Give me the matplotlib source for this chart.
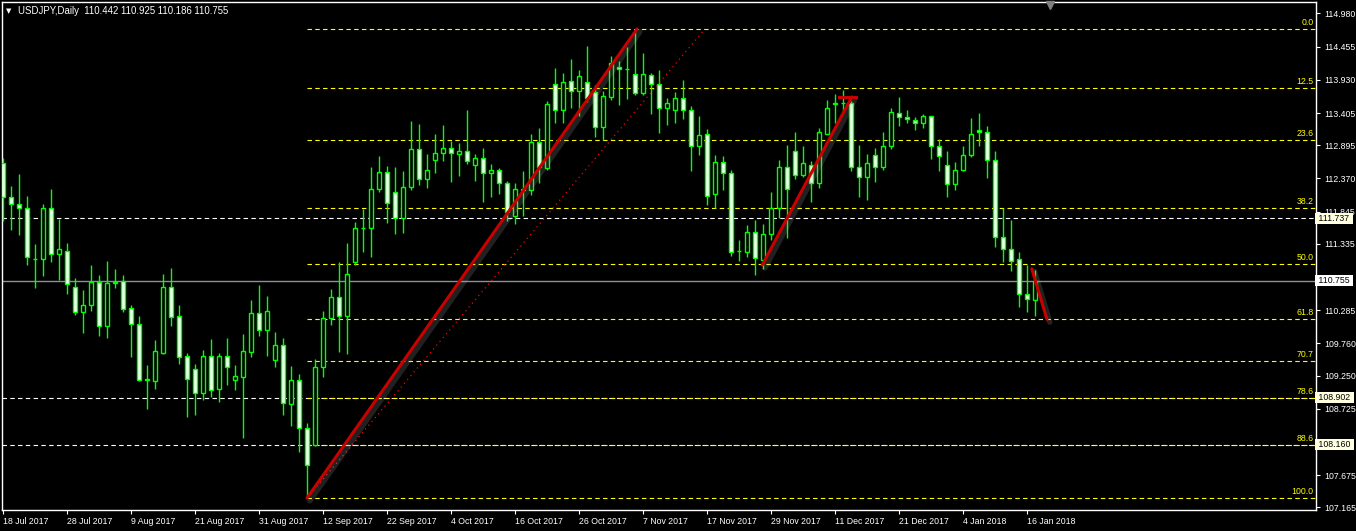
import matplotlib
matplotlib.use("Agg")
import matplotlib.pyplot as plt
import matplotlib.patheffects as pe
import matplotlib.transforms as mtransforms
import numpy as np
import pandas as pd

plt.rcParams['font.family'] = ['Liberation Sans', 'DejaVu Sans']

# daily bars, USDJPY 18 Jul 2017 - 17 Jan 2018 (no bars on 25 Dec and 1 Jan)
dates = pd.bdate_range("2017-07-18", "2018-01-17")
dates = dates[~dates.isin(pd.to_datetime(["2017-12-25", "2018-01-01"]))]

opens = [112.62, 112.07, 111.96, 111.90, 111.10, 111.09, 111.90, 111.17, 111.23, 110.65,
         110.25, 110.36, 110.73, 110.04, 110.72, 110.74, 110.32, 110.06, 109.19, 109.16,
         109.61, 110.66, 110.19, 109.56, 109.35, 108.97, 109.56, 109.04, 109.56, 109.18,
         109.23, 109.63, 110.24, 109.97, 109.50, 109.73, 108.80, 109.18, 108.43, 108.16,
         109.39, 110.16, 110.49, 110.19, 111.05, 111.59, 111.59, 112.21, 112.47, 112.15,
         111.74, 112.23, 112.83, 112.36, 112.66, 112.77, 112.85, 112.75, 112.81, 112.59,
         112.69, 112.45, 112.50, 112.29, 111.77, 112.20, 112.19, 112.94, 112.53, 113.86,
         113.45, 113.91, 113.75, 113.89, 113.73, 113.18, 113.66, 114.14, 114.10, 114.02,
         113.72, 114.00, 113.87, 113.48, 113.46, 113.64, 113.46, 112.88, 113.07, 112.13,
         112.63, 112.45, 111.22, 111.20, 111.52, 111.08, 111.49, 111.91, 112.55, 112.80,
         112.42, 112.59, 112.29, 113.08, 113.57, 113.56, 113.56, 112.55, 112.39, 112.74,
         112.55, 112.89, 113.40, 113.34, 113.29, 113.24, 113.35, 112.88, 112.58, 112.28,
         112.51, 112.74, 113.14, 113.10, 112.66, 111.44, 111.26, 111.09, 110.54, 110.442]
highs = [112.69, 112.25, 112.44, 112.09, 111.33, 111.97, 112.20, 111.73, 111.35, 110.80,
         110.61, 111.00, 110.84, 111.06, 110.94, 110.84, 110.37, 110.19, 109.42, 109.81,
         110.86, 110.95, 110.37, 109.61, 109.43, 109.66, 109.83, 109.61, 109.85, 109.42,
         109.91, 110.45, 110.68, 110.51, 109.94, 109.85, 109.40, 109.28, 108.50, 109.51,
         110.27, 110.62, 111.05, 111.35, 111.68, 111.89, 112.55, 112.72, 112.57, 112.55,
         112.49, 113.28, 113.23, 112.76, 113.07, 113.21, 112.97, 112.93, 113.45, 112.76,
         112.85, 112.60, 112.53, 112.33, 112.30, 112.49, 113.07, 113.17, 113.60, 114.11,
         114.04, 114.26, 114.09, 114.47, 113.85, 113.75, 114.31, 114.23, 114.45, 114.73,
         114.35, 114.03, 114.09, 113.65, 113.74, 113.93, 113.52, 113.36, 113.15, 112.74,
         112.72, 112.50, 111.40, 111.63, 111.71, 111.65, 112.16, 112.66, 112.90, 113.10,
         112.88, 112.65, 113.16, 113.61, 113.71, 113.77, 113.60, 112.90, 112.76, 112.85,
         113.10, 113.48, 113.66, 113.46, 113.34, 113.39, 113.36, 113.00, 112.80, 112.63,
         112.88, 113.33, 113.41, 113.20, 112.80, 111.90, 111.71, 111.20, 111.00, 110.925]
lows = [111.69, 111.55, 111.48, 111.00, 110.63, 110.83, 111.05, 110.77, 110.54, 110.21,
        109.93, 110.27, 109.87, 109.85, 110.64, 110.25, 109.55, 109.16, 108.73, 109.04,
        109.60, 110.03, 109.44, 108.60, 108.63, 108.86, 108.92, 108.84, 109.10, 109.02,
        108.27, 109.54, 109.88, 109.56, 109.38, 108.63, 108.46, 108.05, 107.32, 108.13,
        109.23, 110.05, 109.63, 109.59, 111.00, 111.21, 111.13, 112.15, 111.66, 111.49,
        111.50, 112.18, 112.26, 112.22, 112.45, 112.64, 112.32, 112.41, 112.60, 112.33,
        111.99, 112.08, 112.13, 111.69, 111.65, 111.77, 112.11, 112.30, 112.50, 113.25,
        113.25, 113.48, 113.35, 113.58, 113.03, 112.98, 113.61, 113.53, 113.63, 113.69,
        113.69, 113.39, 113.09, 113.22, 113.25, 113.31, 112.48, 112.74, 111.95, 111.90,
        112.18, 111.15, 111.06, 111.13, 110.84, 110.93, 111.40, 111.74, 111.42, 112.36,
        112.39, 112.00, 112.22, 113.07, 113.25, 113.43, 112.48, 112.07, 112.03, 112.32,
        112.51, 112.84, 113.20, 113.25, 113.13, 113.16, 112.67, 112.48, 112.07, 112.18,
        112.48, 112.71, 112.89, 112.37, 111.28, 111.05, 110.91, 110.33, 110.25, 110.186]
closes = [112.07, 111.96, 111.90, 111.12, 111.09, 111.90, 111.17, 111.25, 110.70, 110.25,
          110.36, 110.73, 110.04, 110.71, 110.73, 110.31, 110.06, 109.18, 109.18, 109.64,
          110.66, 110.18, 109.55, 109.19, 108.97, 109.56, 109.03, 109.56, 109.38, 109.24,
          109.64, 110.24, 109.97, 110.27, 109.73, 108.81, 109.18, 108.43, 107.83, 109.39,
          110.16, 110.49, 110.19, 110.86, 111.58, 111.58, 112.21, 112.47, 111.98, 111.74,
          112.23, 112.83, 112.36, 112.50, 112.77, 112.85, 112.77, 112.81, 112.64, 112.69,
          112.45, 112.50, 112.29, 111.84, 112.20, 112.19, 112.94, 112.55, 113.54, 113.45,
          113.89, 113.75, 113.99, 113.64, 113.18, 113.67, 114.19, 114.10, 114.10, 113.72,
          114.02, 113.87, 113.48, 113.57, 113.64, 113.46, 112.88, 113.05, 112.10, 112.63,
          112.45, 111.21, 111.22, 111.53, 111.11, 111.49, 111.91, 112.55, 112.20, 112.42,
          112.61, 112.29, 113.10, 113.49, 113.54, 113.56, 112.55, 112.39, 112.61, 112.55,
          112.89, 113.42, 113.34, 113.31, 113.24, 113.36, 112.88, 112.72, 112.28, 112.51,
          112.74, 113.07, 113.10, 112.66, 111.44, 111.26, 111.07, 110.54, 110.46, 110.755]

# scale labels (the ones at 110.815 and 108.200 sit under the price boxes)
price_ticks = [114.980, 114.455, 113.930, 113.405, 112.895, 112.370, 111.845, 111.335,
               110.815, 110.285, 109.760, 109.250, 108.725, 108.200, 107.675, 107.165]
hidden_ticks = [110.815, 108.200]

fib_high = 114.734
fib_low = 107.314
fib_levels = [0.0, 12.5, 23.6, 38.2, 50.0, 61.8, 70.7, 78.6, 88.6, 100.0]
hlines = [111.737, 108.902, 108.160]
bid = 110.755

x = np.arange(len(dates))
o = np.array(opens); h = np.array(highs); l = np.array(lows); c = np.array(closes)

fig = plt.figure(figsize=(13.56, 5.31), dpi=100, facecolor='black')
ax = fig.add_axes([2/1356, 21/531, 1314/1356, 508/531], facecolor='black')

green = '#00ff00'
ax.vlines(x, l, h, color=green, lw=1.0, zorder=3)
up = c >= o
body_h = np.abs(c - o)
body_h[body_h < 0.001] = 0.001
ax.bar(x, body_h, bottom=np.minimum(o, c), width=0.6,
       color=np.where(up, 'black', 'white'), edgecolor=green, linewidth=1.0, zorder=4)

# fibonacci retracement
i_low = 38
for lv in fib_levels:
    p = fib_high - lv / 100 * (fib_high - fib_low)
    ax.plot([i_low, 170], [p, p], color='#ffff00', lw=0.8, ls=(0, (4, 3)), zorder=2)
    ax.text(163.8, p + 0.03, f"{lv:.1f}", color='#ffff00', fontsize=6.3,
            ha='right', va='bottom', zorder=6)
ax.plot([i_low, 87.75], [fib_low, fib_high], color='#ff0000', lw=0.9,
        ls=(0, (1, 3)), zorder=5)

# horizontal lines
for p in hlines:
    ax.axhline(p, color='white', lw=0.8, ls=(0, (4, 3)), zorder=1)
ax.axhline(bid, color='#8a8f99', lw=1.0, zorder=1)

# red trend lines
shadow = [pe.SimpleLineShadow(offset=(2, -2), shadow_color='#bbbbbb', alpha=0.18, linewidth=4),
          pe.Normal()]
red = '#c80000'
ax.plot([i_low, 79.25], [fib_low, fib_high], color=red, lw=2.2, zorder=7,
        solid_capstyle='round', path_effects=shadow)
ax.plot([94.9, 106.1], [111.00, 113.66], color=red, lw=2.2, zorder=7,
        solid_capstyle='round', path_effects=shadow)
ax.plot([104.5, 106.6], [113.66, 113.66], color=red, lw=2.2, zorder=7)
ax.plot([128.6, 130.5], [110.94, 110.14], color=red, lw=2.2, zorder=7,
        solid_capstyle='round', path_effects=shadow)

ax.set_xlim(-0.125, 164.125)
ax.set_ylim(107.125, 115.161)

for s in ax.spines.values():
    s.set_color('white')
    s.set_linewidth(1.0)

ax.yaxis.tick_right()
ax.set_yticks(price_ticks)
ax.set_yticklabels(["" if p in hidden_ticks else f"{p:.3f}" for p in price_ticks])
ax.set_xticks(x[::8])
ax.set_xticklabels([d.strftime('%-d %b %Y') for d in dates[::8]], ha='left')
ax.tick_params(axis='both', colors='white', labelcolor='white', labelsize=6.3,
               length=3, width=0.8, direction='out')
ax.tick_params(axis='x', pad=2)
ax.tick_params(axis='y', pad=3)

# price boxes on the right scale
trans = mtransforms.blended_transform_factory(ax.transAxes, ax.transData)
for p in hlines:
    ax.text(1.0, p, f" {p:.3f} ", transform=trans, ha='left', va='center', fontsize=6.3,
            color='black', zorder=10, clip_on=False,
            bbox=dict(boxstyle='square,pad=0.12', fc='#ffffe0', ec='none'))
ax.text(1.0, bid, f" {bid:.3f} ", transform=trans, ha='left', va='center', fontsize=6.3,
        color='black', zorder=10, clip_on=False,
        bbox=dict(boxstyle='square,pad=0.12', fc='white', ec='none'))

# header
fig.text(6/1356, 1 - 11/531, "\u25bc", color='white', fontsize=5, va='center',
         family='DejaVu Sans')
fig.text(18/1356, 1 - 11/531,
         f"USDJPY,Daily  {opens[-1]:.3f} {highs[-1]:.3f} {lows[-1]:.3f} {closes[-1]:.3f}",
         color='white', fontsize=6.9, va='center')
ax.plot(130.9, 115.161 - 0.05, marker='v', color='#7f7f7f', ms=6, clip_on=False, zorder=10)

fig.savefig("out.png", dpi=100, facecolor='black')
